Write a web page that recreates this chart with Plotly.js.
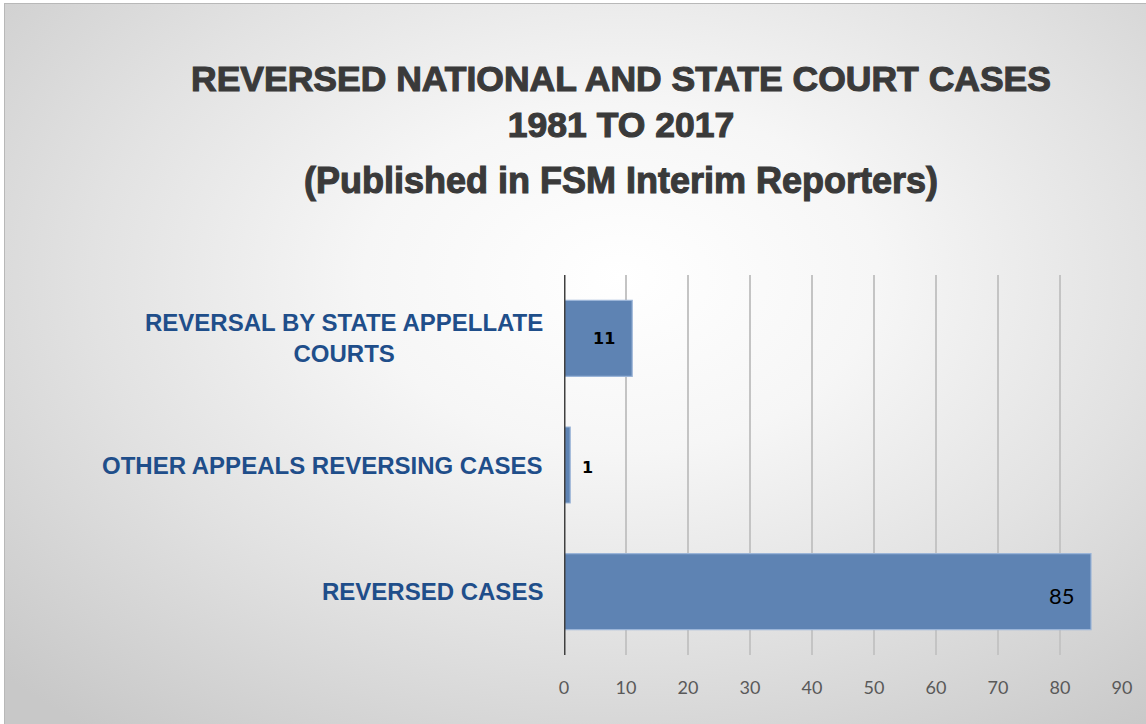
<!DOCTYPE html>
<html>
<head>
<meta charset="utf-8">
<script src="https://cdn.plot.ly/plotly-3.0.1.min.js"></script>
<style>
  html, body { margin: 0; padding: 0; background: #ffffff; }
  #bg {
    position: absolute; left: 4px; top: 3px; width: 1142px; height: 721px;
    box-sizing: border-box;
    border-left: 1px solid #b8b8b8; border-top: 1px solid #b8b8b8;
    background: radial-gradient(ellipse 75% 80% at 54% 38%, #ffffff 0%, #f6f6f6 30%, #e2e2e2 62%, #c8c8c8 100%);
  }
  #chart { position: absolute; left: 0; top: 0; width: 1146px; height: 724px; }
  #chart .gtitle, #chart .annotation-text.heavy { stroke: #3a3a3a; stroke-width: 1.1px; }
</style>
</head>
<body>
<div id="bg"></div>
<div id="chart"></div>
<script>
const categories = ["REVERSED CASES", "OTHER APPEALS REVERSING CASES", "REVERSAL BY STATE APPELLATE<br>COURTS"];
const values = [85, 1, 11];
const tickValues = [0, 10, 20, 30, 40, 50, 60, 70, 80, 90];
const titleLines = ["REVERSED NATIONAL AND STATE COURT CASES", "1981 TO 2017"];
const subtitle = "(Published in FSM Interim Reporters)";

const idx = categories.map((c, i) => i);

const trace = {
  type: "bar",
  orientation: "h",
  y: idx,
  x: values,
  width: 0.6,
  marker: { color: "#5e83b3", line: { color: "#9bb5d8", width: 1.2 } },
  hoverinfo: "x+y",
  cliponaxis: false
};

const plotW = 1146 - 564 - 24;

const labelAnn = categories.map((c, i) => ({
  xref: "paper", yref: "y", x: -19 / plotW, y: i,
  xanchor: "right", yanchor: "middle", align: "center",
  text: c, showarrow: false,
  font: { family: "Liberation Sans, Arial, sans-serif", size: 24, color: "#1f4e8a", weight: "bold" }
}));

const valueAnn = values.map((v, i) => {
  if (v >= 50) {
    return { xref: "x", yref: "y", x: v, y: i, xanchor: "right", xshift: -14, yshift: -4,
      text: String(v), showarrow: false,
      font: { family: "Lato, Open Sans, sans-serif", size: 22, color: "#000000" } };
  } else if (v >= 5) {
    return { xref: "x", yref: "y", x: v / 2, y: i, xanchor: "center", xshift: 6,
      text: String(v), showarrow: false,
      font: { family: "DejaVu Sans, sans-serif", size: 16, color: "#000000", weight: "bold" } };
  } else {
    return { xref: "x", yref: "y", x: v, y: i, xanchor: "left", xshift: 10, yshift: -2,
      text: String(v), showarrow: false,
      font: { family: "DejaVu Sans, sans-serif", size: 16, color: "#000000", weight: "bold" } };
  }
});

const subtitleAnn = {
  xref: "paper", yref: "paper", x: (621 - 564) / plotW, y: 1.0 + (275 - 180) / 380,
  xanchor: "center", yanchor: "middle",
  text: subtitle, showarrow: false,
  font: { family: "Liberation Sans, Arial, sans-serif", size: 36, color: "#3a3a3a", weight: "bold" }
};

const layout = {
  width: 1146, height: 724,
  paper_bgcolor: "rgba(0,0,0,0)",
  plot_bgcolor: "rgba(0,0,0,0)",
  margin: { l: 564, r: 24, t: 275, b: 69 },
  showlegend: false,
  title: {
    text: titleLines.join("<br>"),
    x: 621 / 1146, xanchor: "center",
    y: 1 - 91 / 724, yanchor: "top",
    font: { family: "Liberation Sans, Arial, sans-serif", size: 35.5, color: "#3a3a3a", weight: "bold" }
  },
  xaxis: {
    range: [0, 90],
    tickvals: tickValues,
    ticktext: tickValues.map(String),
    showgrid: true, gridcolor: "#c4c4c4", gridwidth: 1.5,
    zeroline: false, showline: false, ticks: "",
    ticklabelstandoff: 20,
    tickfont: { family: "Lato, Open Sans, sans-serif", size: 18, color: "#595959" },
    fixedrange: true
  },
  yaxis: {
    range: [-0.5, 2.5],
    showticklabels: false, showgrid: false, zeroline: false,
    showline: false, ticks: "", fixedrange: true
  },
  shapes: [{
    type: "line", xref: "x", yref: "paper", x0: 0, x1: 0, y0: 0, y1: 1,
    line: { color: "#404040", width: 3 }
  }],
  annotations: labelAnn.concat(valueAnn, [subtitleAnn])
};

Plotly.newPlot("chart", [trace], layout, { displayModeBar: false, staticPlot: true }).then(() => {
  const anns = document.querySelectorAll("#chart .annotation-text");
  anns[anns.length - 1].classList.add("heavy");
});
</script>
</body>
</html>
